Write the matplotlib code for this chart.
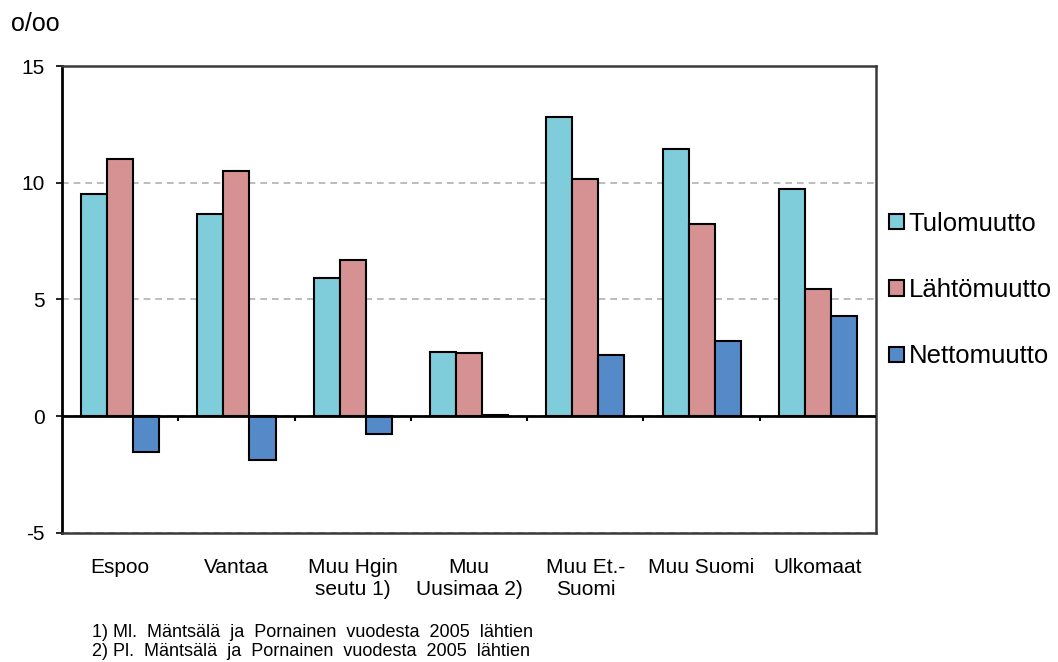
import matplotlib
matplotlib.use('Agg')
import numpy as np
import matplotlib.pyplot as plt
from matplotlib.patches import Patch

plt.rcParams['font.family'] = ['Liberation Sans', 'DejaVu Sans']
plt.rcParams['axes.unicode_minus'] = False

# Data
categories = ['Espoo', 'Vantaa', 'Muu Hgin\nseutu 1)', 'Muu\nUusimaa 2)',
              'Muu Et.-\nSuomi', 'Muu Suomi', 'Ulkomaat']
tulomuutto = [9.53, 8.67, 5.92, 2.75, 12.8, 11.46, 9.74]
lahtomuutto = [11.03, 10.5, 6.7, 2.7, 10.17, 8.24, 5.45]
nettomuutto = [-1.55, -1.89, -0.77, 0.05, 2.62, 3.22, 4.29]
series_names = ['Tulomuutto', 'Lähtömuutto', 'Nettomuutto']
colors = ['#7fcddb', '#d69293', '#558ac9']
footnotes = ['1) Ml.  Mäntsälä  ja  Pornainen  vuodesta  2005  lähtien',
             '2) Pl.  Mäntsälä  ja  Pornainen  vuodesta  2005  lähtien']

fig = plt.figure(figsize=(10.58, 6.62), dpi=100)
ax = fig.add_axes([0.0586, 0.195, 0.7694, 0.7053])

x = np.arange(len(categories))
w = 0.224
for k, vals in enumerate([tulomuutto, lahtomuutto, nettomuutto]):
    ax.bar(x + (k - 1) * w, vals, w, color=colors[k], edgecolor='black',
           linewidth=1.5, zorder=3)

ax.set_xlim(-0.5, len(categories) - 0.5)
ax.set_ylim(-5, 15)
ax.set_yticks([-5, 0, 5, 10, 15])
ax.tick_params(axis='y', direction='out', length=4.5, width=1.2, labelsize=15, pad=8)
ax.set_xticks(x)
ax.set_xticklabels(categories, fontsize=15, linespacing=1.2)
ax.tick_params(axis='x', length=0, pad=18)

ax.yaxis.grid(True, linestyle=(0, (4, 3)), color='#b0b0b0', linewidth=1.2, zorder=0)
ax.axhline(0, color='black', linewidth=2, zorder=4)
bounds = np.arange(len(categories) + 1) - 0.5
ax.vlines(bounds[1:-1], -0.2, 0, color='black', linewidth=1.5, zorder=4)

for s in ['top', 'right', 'bottom']:
    ax.spines[s].set_color('#3a3a3a')
    ax.spines[s].set_linewidth(1.8)
ax.spines['left'].set_color('black')
ax.spines['left'].set_linewidth(2)

fig.text(0.0105, 0.964, 'o/oo', fontsize=18, va='center', ha='left')

handles = [Patch(facecolor=c, edgecolor='black', linewidth=1.5) for c in colors]
fig.legend(handles, series_names, loc='center left', bbox_to_anchor=(0.8285, 0.562),
           frameon=False, fontsize=18.5, handlelength=0.55, handleheight=0.55,
           handletextpad=0.2, labelspacing=1.65, borderpad=0)

fig.text(0.087, 0.0305, '\n'.join(footnotes), fontsize=13, ha='left', va='center',
         linespacing=1.2)

fig.savefig('out.png', dpi=100)
